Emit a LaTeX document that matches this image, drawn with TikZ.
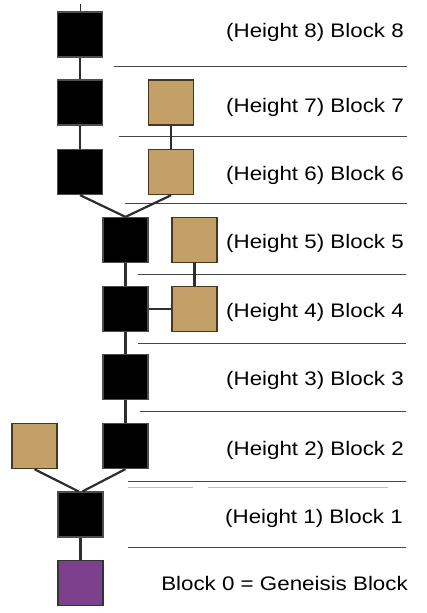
\documentclass[tikz,border=0pt]{standalone}
\usepackage{fontspec}
\setmainfont{Liberation Sans}
\definecolor{tanfill}{RGB}{196,160,105}
\definecolor{tanedge}{RGB}{72,56,34}
\definecolor{genfill}{RGB}{124,64,140}
\definecolor{linkcol}{RGB}{45,45,45}
\definecolor{sepcol}{RGB}{70,70,70}
\tikzset{
  blk/.style={draw=black!70,fill=black,line width=1.2pt,minimum size=45pt,inner sep=0pt},
  side/.style={blk,draw=tanedge,fill=tanfill,line width=1.5pt},
  genesis/.style={blk,draw=black!80,fill=genfill},
  lbl/.style={anchor=base east,inner sep=0pt,font=\fontsize{19.6}{20}\selectfont,xscale=1.14},
  sep/.style={draw=sepcol,line width=0.9pt},
  link/.style={draw=linkcol,line width=2.2pt}
}
\begin{document}
\begin{tikzpicture}[x=1pt,y=-1pt]
\useasboundingbox (0,0) rectangle (426,613);
% separators between the heights
\draw[sep] (114,66) -- (407,66);
\draw[sep] (119,136) -- (407,136);
\draw[sep] (125,203) -- (407,203);
\draw[sep] (138,274) -- (406,274);
\draw[sep] (138,343) -- (406,343);
\draw[sep] (140,411) -- (406,411);
\draw[sep] (128,481) -- (406,481);
\draw[draw=black!25,line width=0.9pt] (128,487) -- (193,487) (208,487) -- (388,487);
\draw[sep] (128,547) -- (406,547);
% main chain
\node[blk] (b8) at (80,34.5) {};
\node[blk] (b7) at (80,102.5) {};
\node[blk] (b6) at (80,172) {};
\node[blk] (b5) at (125.5,240) {};
\node[blk] (b4) at (125.5,309) {};
\node[blk] (b3) at (125.5,377) {};
\node[blk] (b2) at (125.5,446) {};
\node[blk] (b1) at (80.5,514.5) {};
\node[genesis] (b0) at (80.5,583) {};
% stale blocks
\node[side] (t7) at (171,102.5) {};
\node[side] (t6) at (171,172) {};
\node[side] (t5) at (194.5,240) {};
\node[side] (t4) at (194.5,309) {};
\node[side] (t2) at (34.5,446) {};
% links
\coordinate (top) at (80,4);
\draw[draw=linkcol,line width=0.8pt] (top) -- (b8.north);
\draw[link] (b8) -- (b7);
\draw[link] (b7) -- (b6);
\draw[link] (t7) -- (t6);
\draw[link] (b6.south) -- (b5.north);
\draw[link] (t6.south) -- (b5.north);
\draw[link] (b5) -- (b4);
\draw[link] (t5) -- (t4);
\draw[link] (b4) -- (t4);
\draw[link] (b4) -- (b3);
\draw[link] (b3) -- (b2);
\draw[link] (t2.south) -- ([xshift=-2pt]b1.north);
\draw[link] (b2.south) -- ([xshift=2pt]b1.north);
\draw[link] (b1) -- (b0);
% labels
\node[lbl] (l8) at (404,37) {(Height 8) Block 8};
\node[lbl] (l7) at (404,112) {(Height 7) Block 7};
\node[lbl] (l6) at (404,180) {(Height 6) Block 6};
\node[lbl] (l5) at (404,248) {(Height 5) Block 5};
\node[lbl] (l4) at (404,317) {(Height 4) Block 4};
\node[lbl] (l3) at (404,385) {(Height 3) Block 3};
\node[lbl] (l2) at (404,455) {(Height 2) Block 2};
\node[lbl] (l1) at (403,523) {(Height 1) Block 1};
\node[lbl] (l0) at (408,590) {Block 0 = Geneisis Block};
\end{tikzpicture}
\end{document}
